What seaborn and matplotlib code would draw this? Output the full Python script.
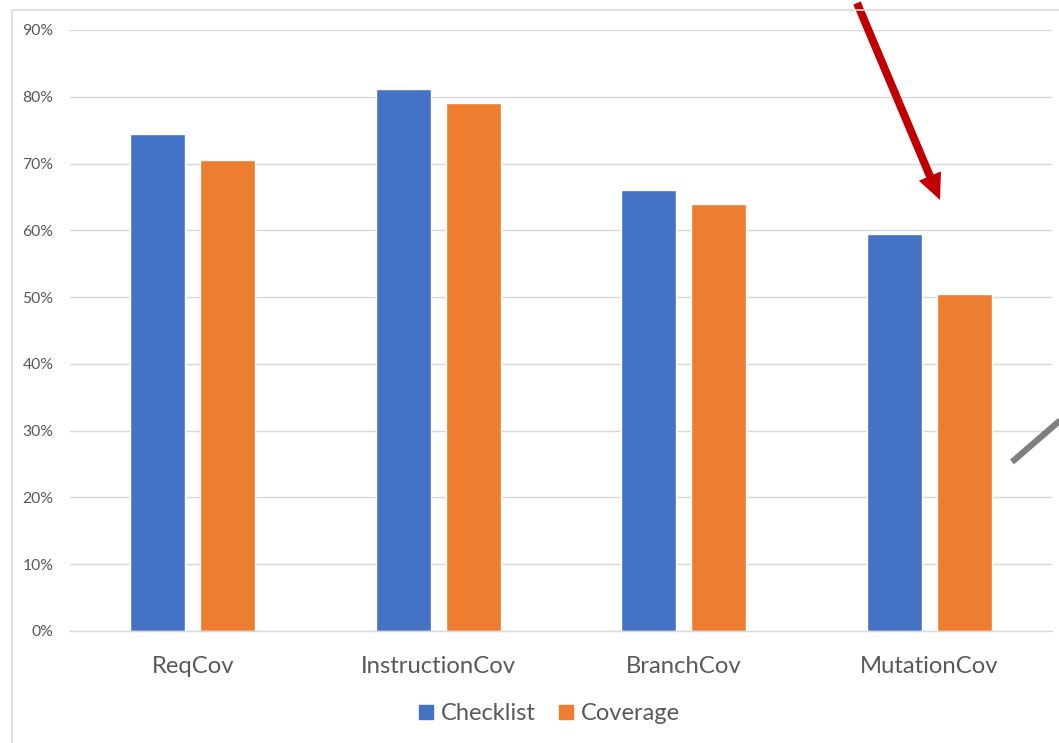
import matplotlib
matplotlib.use("Agg")
import matplotlib.pyplot as plt
from matplotlib.lines import Line2D
from matplotlib.patches import FancyArrow
from matplotlib.ticker import PercentFormatter
import seaborn as sns
import pandas as pd

metrics = ["ReqCov", "InstructionCov", "BranchCov", "MutationCov"]
checklist = [0.744, 0.812, 0.660, 0.595]
coverage = [0.705, 0.791, 0.640, 0.504]
series_names = ["Checklist", "Coverage"]
y_ticks = [0.0, 0.1, 0.2, 0.3, 0.4, 0.5, 0.6, 0.7, 0.8, 0.9]

df = pd.DataFrame({
    "metric": metrics * 2,
    "value": checklist + coverage,
    "series": [series_names[0]] * len(metrics) + [series_names[1]] * len(metrics),
})

sns.set_theme(style="white")
plt.rcParams["font.family"] = ["Lato", "DejaVu Sans"]

W, H = 1059, 743
fig = plt.figure(figsize=(W / 100, H / 100), dpi=100)
ax = fig.add_axes([70 / W, 1 - 631 / H, (1052 - 70) / W, (631 - 30) / H])

palette = {"Checklist": "#4472C4", "Coverage": "#ED7D31"}
sns.barplot(data=df, x="metric", y="value", hue="series", order=metrics,
            hue_order=series_names, palette=palette, width=0.57, gap=0.21,
            saturation=1, ax=ax, legend=False)

ax.set_xlim(-0.5, len(metrics) - 0.5)
ax.set_ylim(0, 0.9)
ax.set_yticks(y_ticks)
ax.yaxis.set_major_formatter(PercentFormatter(1.0, decimals=0))
ax.grid(axis="y", color="#D9D9D9", linewidth=1)
ax.set_axisbelow(True)
for side in ["top", "right", "left"]:
    ax.spines[side].set_visible(False)
ax.spines["bottom"].set_color("#D9D9D9")
ax.spines["bottom"].set_linewidth(1)
ax.set_xlabel("")
ax.set_ylabel("")
ax.tick_params(axis="y", length=0, pad=12, labelsize=11.3, labelcolor="#595959")
ax.tick_params(axis="x", length=0, pad=18, labelsize=17.2, labelcolor="#595959")

# Legend below the chart
handles = [Line2D([], [], marker="s", linestyle="none", markersize=10,
                  markerfacecolor=palette[s], markeredgecolor=palette[s])
           for s in series_names]
fig.legend(handles, series_names, loc="center", bbox_to_anchor=(547 / W, 1 - 714 / H),
           ncol=2, frameon=False, fontsize=17, labelcolor="#595959",
           handletextpad=0.15, columnspacing=0.75, handlelength=1.0)

# Outer chart frame
fig.add_artist(Line2D([12 / W, 12 / W], [0, 1 - 10 / H], transform=fig.transFigure,
                      color="#D9D9D9", linewidth=1.2))
fig.add_artist(Line2D([12 / W, 1], [1 - 10 / H, 1 - 10 / H], transform=fig.transFigure,
                      color="#D9D9D9", linewidth=1.2))

# Red callout arrow pointing at the MutationCov gap
x0, y0, x1, y1 = 857, 3, 940, 200
arrow = FancyArrow(x0, H - y0, x1 - x0, -(y1 - y0), width=8, head_width=24,
                   head_length=26, length_includes_head=True,
                   transform=None, color="#C00000", linewidth=0)
fig.add_artist(arrow)

# Gray connector stub at the right edge
fig.add_artist(Line2D([1012 / W, 1 + 5 / W], [1 - 462 / H, 1 - 417 / H],
                      transform=fig.transFigure, color="#7F7F7F", linewidth=4.5,
                      solid_capstyle="butt"))

fig.savefig("out.png", dpi=100)
